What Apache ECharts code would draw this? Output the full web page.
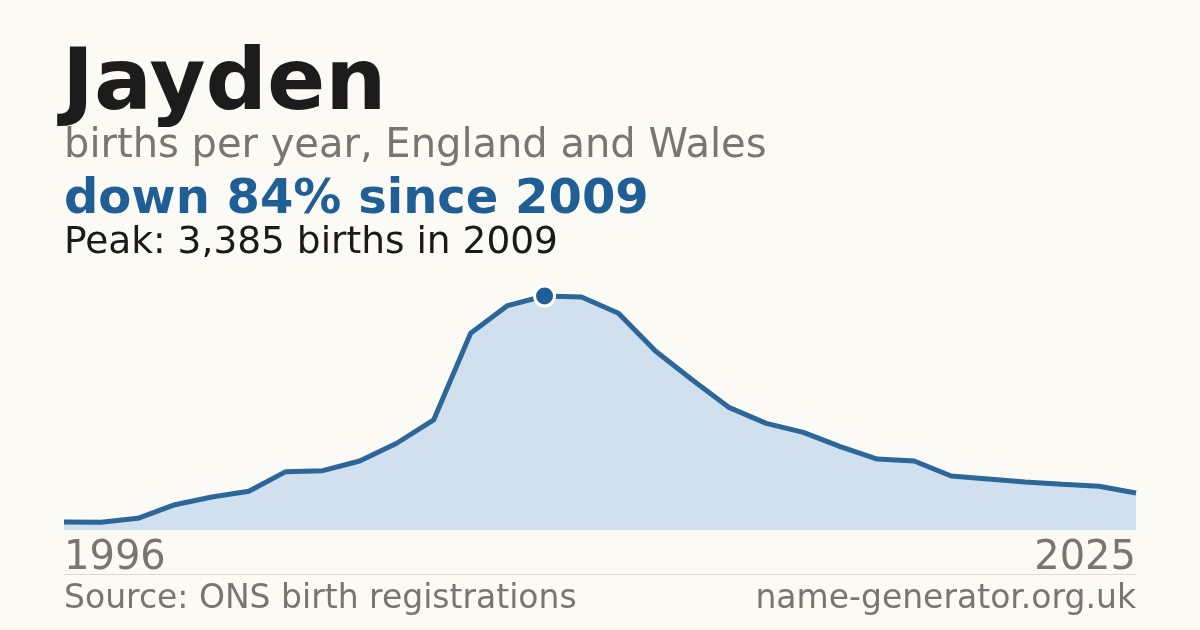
<!DOCTYPE html>
<html><head><meta charset="utf-8">
<script src="https://cdn.jsdelivr.net/npm/echarts@6/dist/echarts.min.js"></script>
<style>html,body{margin:0;padding:0;background:#fbfaf5;}#c{width:1200px;height:630px;}</style>
</head><body><div id="c"></div>
<script>
const years = ['1996','1997','1998','1999','2000','2001','2002','2003','2004','2005','2006','2007','2008','2009','2010','2011','2012','2013','2014','2015','2016','2017','2018','2019','2020','2021','2022','2023','2024','2025'];
const births = [116,112,169,366,478,560,844,858,998,1255,1592,2846,3246,3385,3370,3135,2590,2170,1770,1543,1413,1205,1027,998,781,738,694,661,632,535];
const titleText = 'Jayden';
const subtitleText = 'births per year, England and Wales';
const changeText = 'down 84% since 2009';
const peakText = 'Peak: 3,385 births in 2009';
const sourceText = 'Source: ONS birth registrations';
const siteText = 'name-generator.org.uk';

const peakIdx = births.indexOf(Math.max(...births));
const FONT = 'DejaVu Sans';
function txt(left, top, text, size, weight, color, right){
  const o = {type:'text',top:top,style:{text:text,fontFamily:FONT,fontSize:size,fontWeight:weight,fill:color}};
  if (right !== undefined) o.right = right; else o.left = left;
  return o;
}
const chart = echarts.init(document.getElementById('c'), null, {renderer:'canvas'});
chart.setOption({
  backgroundColor:'#fbfaf5',
  animation:false,
  grid:{left:64,right:64,top:296,bottom:100,containLabel:false},
  xAxis:{type:'category',data:years,boundaryGap:false,
    axisLine:{show:false},axisTick:{show:false},splitLine:{show:false},
    axisLabel:{interval:(i)=>i===0||i===years.length-1,color:'#7a756e',fontFamily:FONT,fontSize:40,margin:9,
      alignMinLabel:'left',alignMaxLabel:'right'}},
  yAxis:{type:'value',min:0,max:Math.max(...births),show:false,splitLine:{show:false}},
  series:[
    {type:'line',data:births,symbol:'none',
      lineStyle:{color:'#2d6799',width:5},
      areaStyle:{color:'#d0e0ef',opacity:1},z:2},
    {type:'scatter',data:[[years[peakIdx],births[peakIdx]]],symbol:'circle',symbolSize:20,
      itemStyle:{color:'#1f5f96',borderColor:'#ffffff',borderWidth:3,opacity:1},z:5}
  ],
  graphic:[
    txt(62,44,titleText,86,'bold','#1c1c1c'),
    txt(64,127,subtitleText,40,'normal','#7a756e'),
    txt(64,177,changeText,48,'bold','#1f5f96'),
    txt(64,224,peakText,37.5,'normal','#1a1a1a'),
    {type:'line',shape:{x1:64,y1:574.5,x2:1136,y2:574.5},style:{stroke:'#dcd9d2',lineWidth:1}},
    txt(64,583,sourceText,33,'normal','#7a756e'),
    txt(0,583,siteText,33,'normal','#7a756e',64)
  ]
});
</script></body></html>
